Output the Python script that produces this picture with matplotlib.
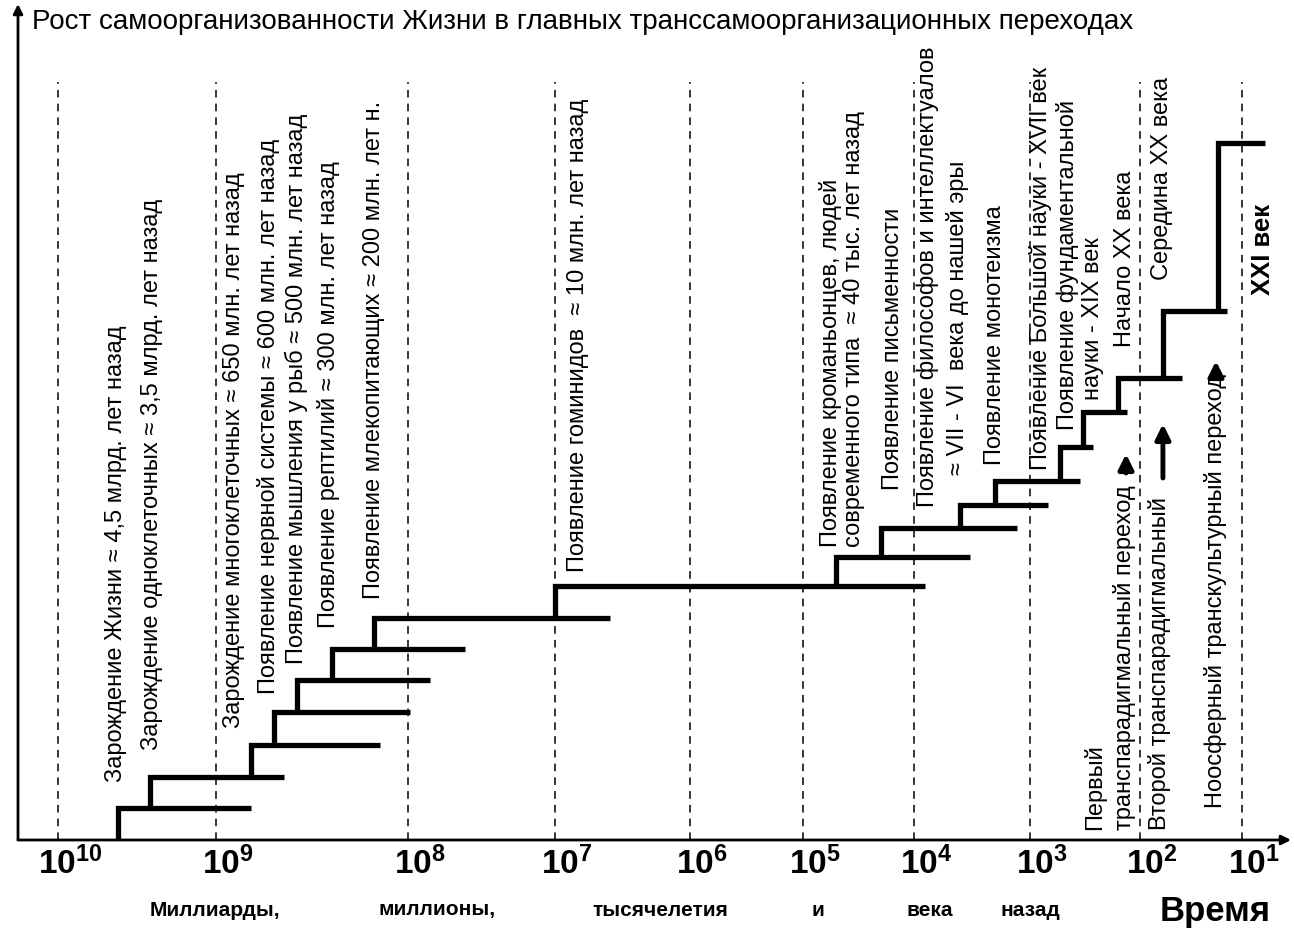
import numpy as np
import matplotlib
matplotlib.use("Agg")
import matplotlib.pyplot as plt
from matplotlib.scale import FuncScale

plt.rcParams['font.family'] = ['Liberation Sans', 'DejaVu Sans']
plt.rcParams['mathtext.fontset'] = 'custom'
plt.rcParams['mathtext.rm'] = 'Liberation Sans'
plt.rcParams['mathtext.bf'] = 'Liberation Sans:bold'

# --- data: years ago, where each step rises and where its tread ends ---
step_years = [4.2e9, 2.6e9, 6.6e8, 5.0e8, 3.8e8, 2.5e8, 1.5e8, 1.0e7,
              5.0e4, 2.0e4, 4.0e3, 2.0e3, 530, 330, 160, 60, 17]
tread_end = [6.6e8, 4.4e8, 1.4e8, 9.7e7, 7.1e7, 4.1e7, 3.9e6, 8.0e3,
             3.3e3, 1.3e3, 690, 350, 270, 130, 39, 14, 5.9]
# level of self-organisation after each step
levels = [3.2, 6.3, 9.5, 12.8, 16.0, 19.1, 22.2, 25.4, 28.3, 31.2, 33.5,
          35.9, 39.3, 42.8, 46.2, 52.9, 69.7]

decades = [10, 9, 8, 7, 6, 5, 4, 3, 2, 1]

# event labels (rotated) : text, years ago, level of the text start
labels = [
    ("Зарождение Жизни ≈ 4,5 млрд. лет назад", 4.3e9, 5.8),
    ("Зарождение одноклеточных ≈ 3,5 млрд. лет назад", 2.54e9, 9.0),
    ("Зарождение многоклеточных ≈ 650 млн. лет назад", 8.06e8, 11.2),
    ("Появление нервной системы ≈ 600 млн. лет назад", 5.3e8, 14.6),
    ("Появление мышления у рыб ≈ 500 млн. лет назад", 3.79e8, 17.6),
    ("Появление рептилий ≈ 300 млн. лет назад", 2.58e8, 21.2),
    ("Появление млекопитающих ≈ 200 млн. лет н.", 1.5e8, 24.1),
    ("Появление гоминидов  ≈ 10 млн. лет назад", 6.76e6, 26.8),
    ("Появление кроманьонцев, людей\nсовременного типа  ≈ 40 тыс. лет назад", 4.45e4, 29.3),
    ("Появление письменности", 1.55e4, 35.0),
    ("Появление философов и интеллектуалов", 7.57e3, 33.3),
    ("≈ VII - VI  века до нашей эры", 4.18e3, 36.5),
    ("Появление монотеизма", 2.0e3, 37.5),
    ("Появление Большой науки - XVII век", 811, 37.0),
    ("Появление фундаментальной", 452, 41.0),
    ("науки - XIX век", 267, 44.0),
    ("Начало XX века", 137, 49.3),
    ("Середина XX века", 60.8, 56.0),
    ("Первый", 256, 1.0),
    ("транспарадигмальный переход", 137, 1.0),
    ("Второй транспарадигмальный", 63.7, 1.0),
    ("Ноосферный транскультурный переход", 18, 3.2),
]

# transition arrows: years ago, from level, to level
arrows = [(134, 36.7, 38.6), (59.6, 36.2, 41.6), (18, 46.2, 47.9)]

bottom_words = ["Миллиарды,", "миллионы,", "тысячелетия", "и", "века", "назад"]
bottom_x = [215, 437, 660, 818, 930, 1030]

# --- piecewise-log time axis as drawn in the original ---
anchor_log = np.array([0, 1, 2, 3, 4, 5, 6, 7, 8, 9, 10, 11], dtype=float)
anchor_pos = np.array([1342, 1242, 1140, 1030, 914, 803, 690, 555, 408, 216, 58, -100],
                      dtype=float)


def forward(x):
    x = np.asarray(x, dtype=float)
    return np.interp(np.log10(np.clip(x, 1e-3, None)), anchor_log, anchor_pos)


def inverse(p):
    p = np.asarray(p, dtype=float)
    return 10 ** np.interp(p, anchor_pos[::-1], anchor_log[::-1])


W, H = 1294, 931
fig = plt.figure(figsize=(W / 100, H / 100), dpi=100)
ax = fig.add_axes([0, 0, 1, 1])
ax.set_xscale(FuncScale(ax, (forward, inverse)))
ax.set_xlim(inverse(W), inverse(0))
ax.set_ylim(-9.1, 84.0)
ax.axis('off')

x_left = inverse(18)
x_right = inverse(1291)

# axes arrows
ax.annotate('', xy=(x_right, 0), xytext=(x_left, 0),
            arrowprops=dict(arrowstyle='-|>', lw=2, color='black',
                            mutation_scale=14, shrinkA=0, shrinkB=0))
ax.annotate('', xy=(x_left, 83.6), xytext=(x_left, 0),
            arrowprops=dict(arrowstyle='-|>', lw=2, color='black',
                            mutation_scale=14, shrinkA=0, shrinkB=0))

# dashed decade lines
ax.vlines([10.0 ** d for d in decades], 0, 75.8, colors='black',
          linestyles=(0, (5, 4)), lw=1.1)

# staircase
prev = 0
for x0, x1, lev in zip(step_years, tread_end, levels):
    ax.plot([x0, x0, x1], [prev, lev, lev], color='black', lw=3.8,
            solid_joinstyle='miter', solid_capstyle='butt')
    prev = lev

# rotated event labels
for text, xv, yv in labels:
    ax.text(xv, yv, text, rotation=90, ha='center', va='bottom',
            multialignment='left', fontsize=17, linespacing=1.1)

ax.text(6.2, 54.5, "XXI век", rotation=90, ha='center', va='bottom',
        fontsize=18.5, fontweight='bold')

for xv, y0, y1 in arrows:
    ax.annotate('', xy=(xv, y1), xytext=(xv, y0),
                arrowprops=dict(arrowstyle='-|>', lw=3.5, color='black',
                                mutation_scale=22, shrinkA=0, shrinkB=0))

# decade tick labels
for d in decades:
    ax.annotate(r'$\mathbf{10^{%d}}$' % d, xy=(10.0 ** d, 0), xytext=(12, -24),
                textcoords='offset pixels', ha='center', va='center',
                fontsize=24)

# title and bottom words
fig.text(32 / W, 1 - 22 / H,
         "Рост самоорганизованности Жизни в главных транссамоорганизационных переходах",
         ha='left', va='center', fontsize=20)
for word, xp in zip(bottom_words, bottom_x):
    fig.text(xp / W, 1 - 910 / H, word, ha='center', va='center',
             fontsize=15, fontweight='bold')
fig.text(1215 / W, 1 - 912 / H, "Время", ha='center', va='center',
         fontsize=25, fontweight='bold')

fig.savefig('out.png', dpi=100)
